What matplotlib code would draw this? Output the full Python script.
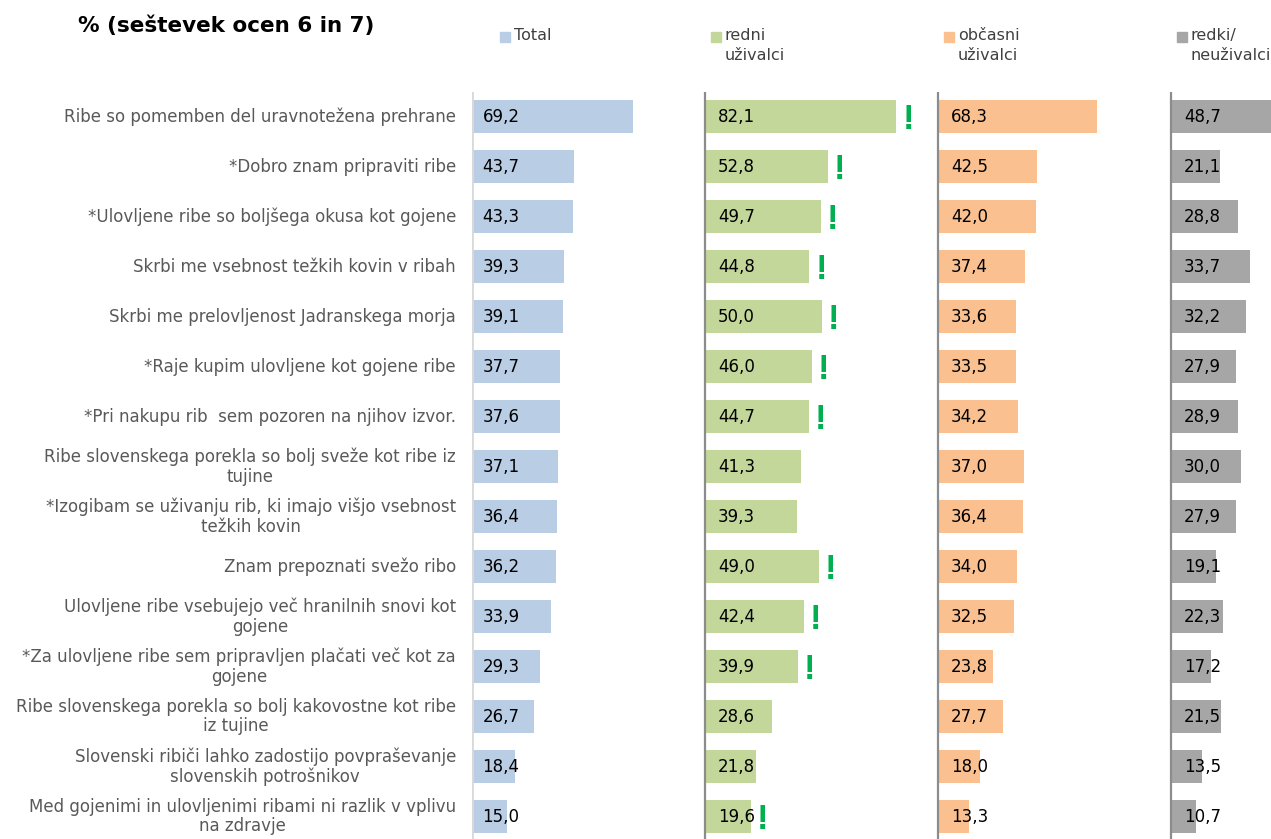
import matplotlib
matplotlib.use("Agg")
import matplotlib.pyplot as plt
from matplotlib.patches import Rectangle

# Statements (rows, top to bottom)
statements = [
    "Ribe so pomemben del uravnotežena prehrane",
    "*Dobro znam pripraviti ribe",
    "*Ulovljene ribe so boljšega okusa kot gojene",
    "Skrbi me vsebnost težkih kovin v ribah",
    "Skrbi me prelovljenost Jadranskega morja",
    "*Raje kupim ulovljene kot gojene ribe",
    "*Pri nakupu rib  sem pozoren na njihov izvor.",
    "Ribe slovenskega porekla so bolj sveže kot ribe iz\ntujine",
    "*Izogibam se uživanju rib, ki imajo višjo vsebnost\ntežkih kovin",
    "Znam prepoznati svežo ribo",
    "Ulovljene ribe vsebujejo več hranilnih snovi kot\ngojene",
    "*Za ulovljene ribe sem pripravljen plačati več kot za\ngojene",
    "Ribe slovenskega porekla so bolj kakovostne kot ribe\niz tujine",
    "Slovenski ribiči lahko zadostijo povpraševanje\nslovenskih potrošnikov",
    "Med gojenimi in ulovljenimi ribami ni razlik v vplivu\nna zdravje",
]

# Groups (panels, left to right)
group_labels = ["Total", "redni\nuživalci", "občasni\nuživalci", "redki/\nneuživalci"]

total = [69.2, 43.7, 43.3, 39.3, 39.1, 37.7, 37.6, 37.1, 36.4, 36.2, 33.9, 29.3, 26.7, 18.4, 15.0]
redni = [82.1, 52.8, 49.7, 44.8, 50.0, 46.0, 44.7, 41.3, 39.3, 49.0, 42.4, 39.9, 28.6, 21.8, 19.6]
obcasni = [68.3, 42.5, 42.0, 37.4, 33.6, 33.5, 34.2, 37.0, 36.4, 34.0, 32.5, 23.8, 27.7, 18.0, 13.3]
redki = [48.7, 21.1, 28.8, 33.7, 32.2, 27.9, 28.9, 30.0, 27.9, 19.1, 22.3, 17.2, 21.5, 13.5, 10.7]

# Rows where regular users differ significantly
redni_significant = [True, True, True, True, True, True, True, False, False,
                     True, True, True, False, False, True]

series = [total, redni, obcasni, redki]
colors = ["#b9cde5", "#c4d79b", "#fac090", "#a6a6a6"]
axis_colors = ["#d9d9d9", "#8c8c8c", "#8c8c8c", "#8c8c8c"]

W, H = 1271, 839
fig = plt.figure(figsize=(W / 100, H / 100), dpi=100)

x0_px = 472
px_per_unit = 2.33
panel_step = 100.0
ax_top_px = 92
ax = fig.add_axes([x0_px / W, 0, 1 - x0_px / W, 1 - ax_top_px / H])
ax.set_xlim(0, (W - x0_px) / px_per_unit)
ax.set_ylim(14.45, -0.5)
ax.axis("off")

rows = list(range(len(statements)))

for k, (vals, col) in enumerate(zip(series, colors)):
    off = k * panel_step
    ax.barh(rows, vals, left=off, height=0.66, color=col, zorder=2)
    ax.axvline(off, color=axis_colors[k], lw=2.0 if k == 0 else 1.6, zorder=3)
    pad = 4.5 if k == 0 else 5.5
    for i, v in zip(rows, vals):
        ax.text(off + pad, i, f"{v:.1f}".replace(".", ","), va="center", ha="left",
                fontsize=12, color="black", zorder=4, family="DejaVu Sans")

# Significance markers next to the regular-user bars
for i, (v, sig) in zip(rows, zip(redni, redni_significant)):
    if sig:
        ax.text(panel_step + v + 2.6, i + 0.06, "!", va="center", ha="left", fontsize=25,
                fontweight="bold", color="#00b050",
                family=["Liberation Sans Narrow", "Liberation Sans"], zorder=4)

# Statement labels
label_x = -(x0_px - 456) / px_per_unit
for i, s in zip(rows, statements):
    ax.text(label_x, i, s, ha="right", va="center", multialignment="center",
            fontsize=12, color="#595959", clip_on=False, linespacing=1.1,
            family="DejaVu Sans")

# Title
fig.text(78 / W, 1 - 26 / H, "% (seštevek ocen 6 in 7)", fontsize=15.5,
         fontweight="bold", color="black", va="center", ha="left")

# Panel headers with colour keys
sq = 10
for k, (lab, col) in enumerate(zip(group_labels, colors)):
    px = x0_px + k * panel_step * px_per_unit
    sx = px + (28 if k == 0 else 6)
    fig.patches.append(Rectangle((sx / W, 1 - 42 / H), sq / W, sq / H,
                                 transform=fig.transFigure, color=col))
    fig.text((sx + sq + 4) / W, 1 - 28 / H, lab, fontsize=11.5, color="#404040",
             va="top", ha="left", linespacing=1.45)

fig.savefig("out.png", dpi=100)
